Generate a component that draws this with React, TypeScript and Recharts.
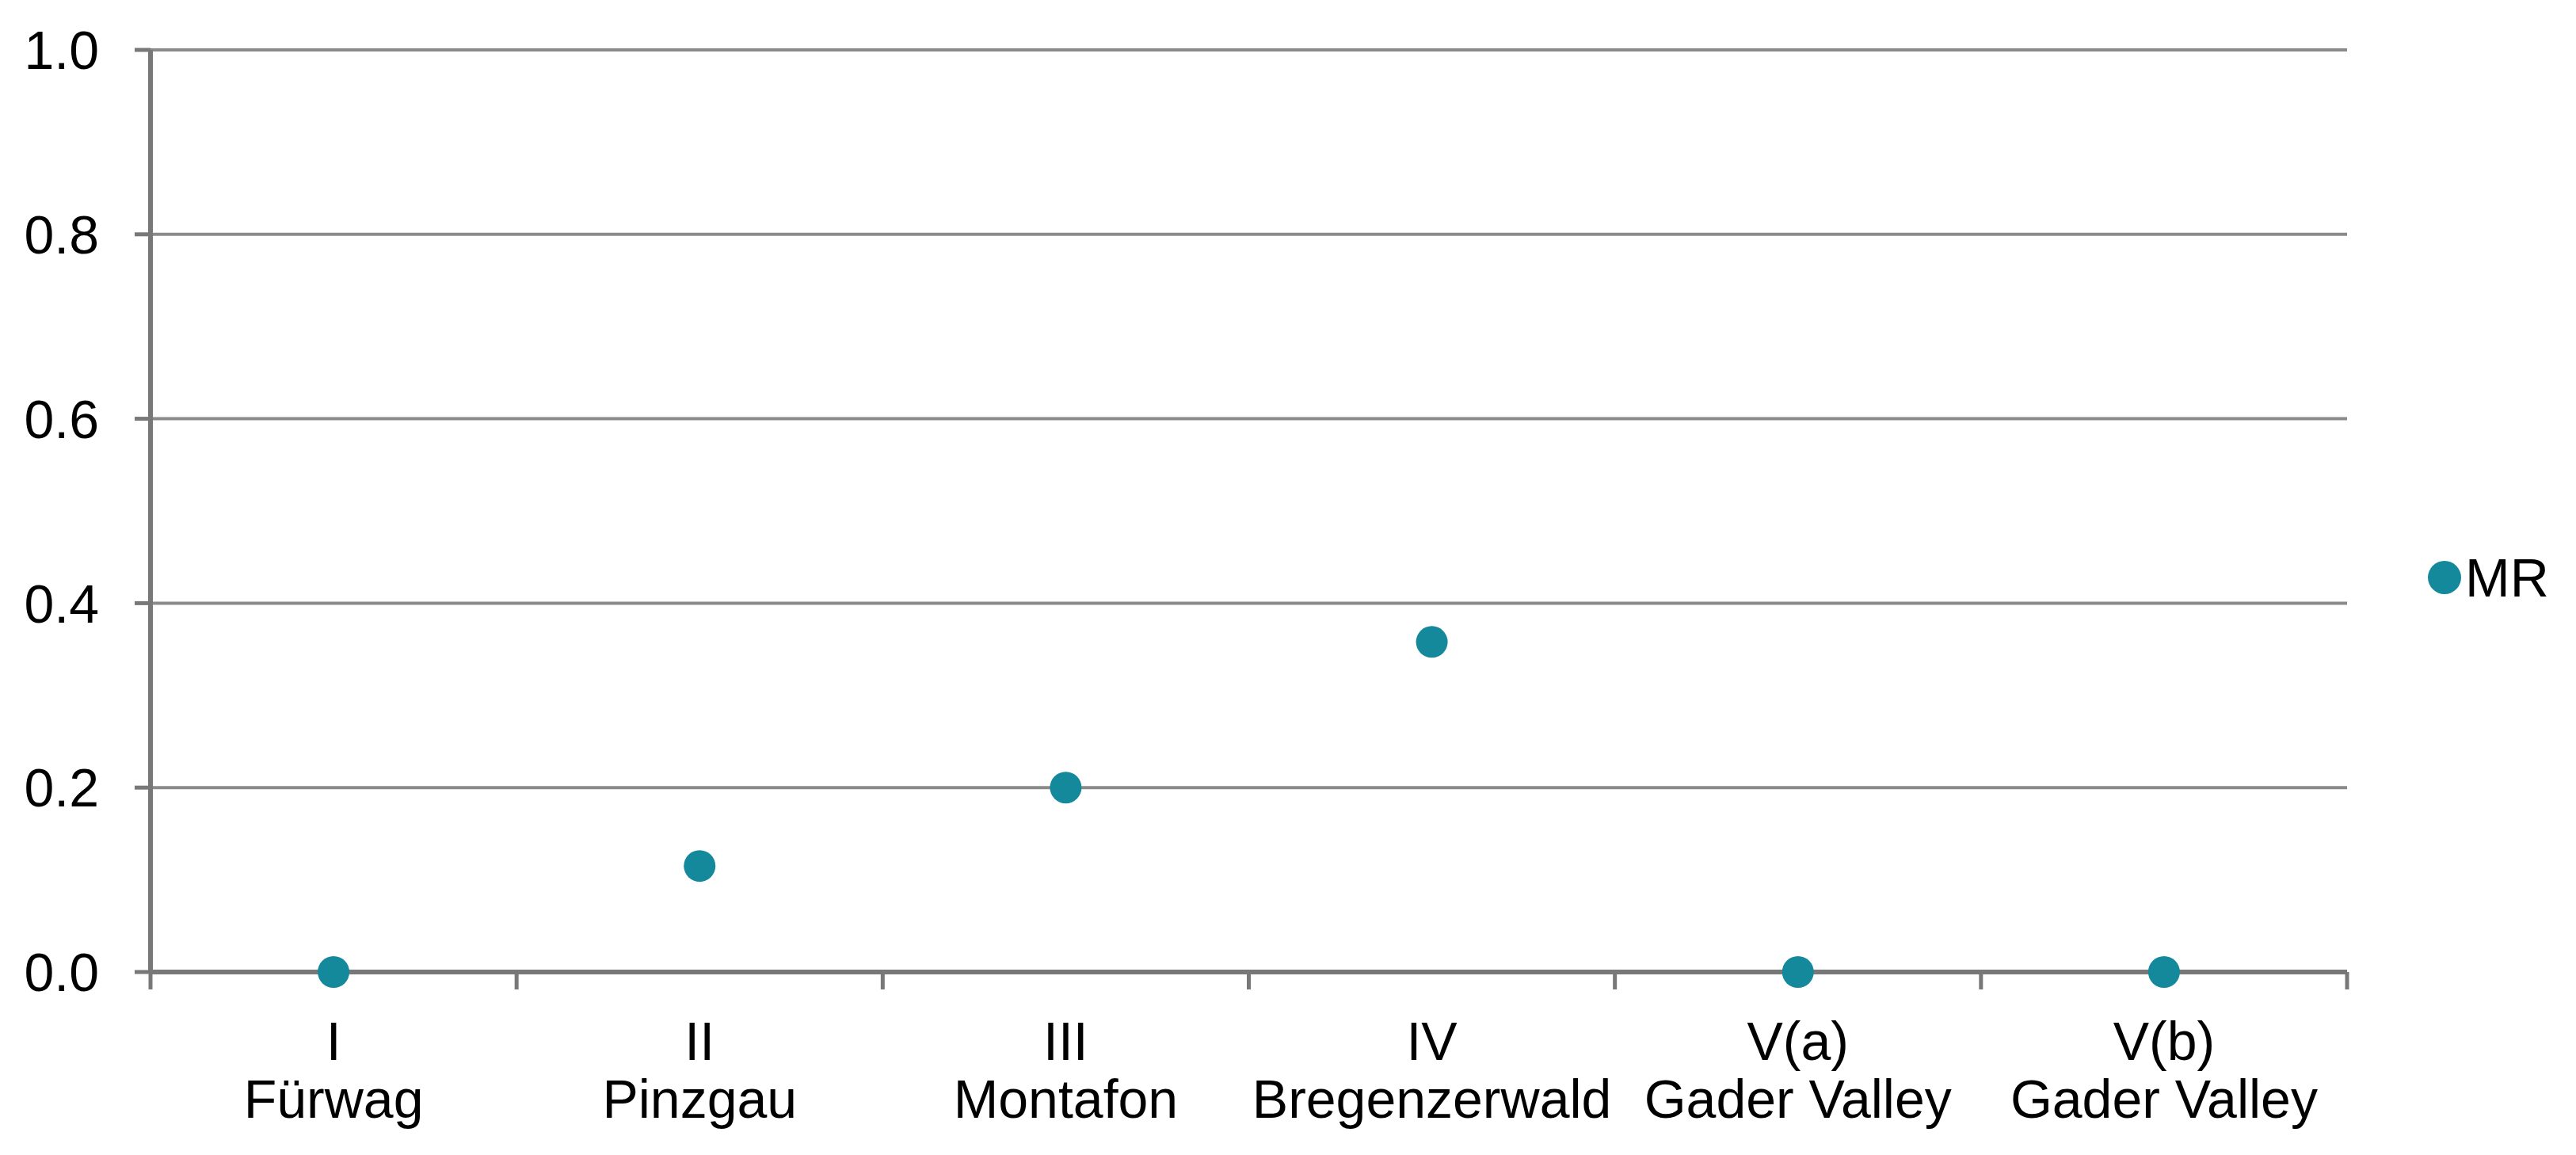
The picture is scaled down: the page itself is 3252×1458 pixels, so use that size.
import React from 'react'
import { ComposedChart, Scatter, XAxis, YAxis, CartesianGrid, Legend } from 'recharts'

const categories = ['I', 'II', 'III', 'IV', 'V(a)', 'V(b)']
const sites = ['Fürwag', 'Pinzgau', 'Montafon', 'Bregenzerwald', 'Gader Valley', 'Gader Valley']
const mrValues = [0, 0.115, 0.2, 0.358, 0, 0]
const yTicks = [0, 0.2, 0.4, 0.6, 0.8, 1.0]

const data = categories.map((c, i) => ({ code: c, site: sites[i], mr: mrValues[i] }))

const W = 3252
const H = 1458
const PLOT_LEFT = 190
const PLOT_RIGHT = 2963
const PLOT_TOP = 63
const PLOT_BOTTOM = 1227
const BAND = (PLOT_RIGHT - PLOT_LEFT) / categories.length
const LEGEND_W = 160

const FONT = '"Liberation Sans", Arial, sans-serif'
const AXIS = '#787878'
const GRID = '#8a8a8a'
const TEAL = '#13899b'

function CategoryTick(props: any) {
  const { x, y, payload, index } = props
  const i = index ?? categories.indexOf(payload.value)
  const left = x - BAND / 2
  const right = x + BAND / 2
  return (
    <g>
      <line x1={left} y1={y} x2={left} y2={y + 22} stroke={AXIS} strokeWidth={5} />
      {i === categories.length - 1 && (
        <line x1={right} y1={y} x2={right} y2={y + 22} stroke={AXIS} strokeWidth={5} />
      )}
      <text x={x} y={y} textAnchor="middle" fontFamily={FONT} fontSize={68} fill="#000">
        <tspan x={x} dy={111}>{payload.value}</tspan>
        <tspan x={x} dy={73}>{sites[i]}</tspan>
      </text>
    </g>
  )
}

function Dot(props: any) {
  return <circle cx={props.cx} cy={props.cy} r={20} fill={TEAL} />
}

function LegendBox() {
  return (
    <div style={{ display: 'flex', alignItems: 'center', fontFamily: FONT, fontSize: 68, color: '#000' }}>
      <svg width={44} height={44} style={{ marginRight: 4 }}>
        <circle cx={22} cy={22} r={21} fill={TEAL} />
      </svg>
      <span>MR</span>
    </div>
  )
}

export default function App() {
  return (
    <div style={{ position: 'absolute', left: 0, top: 0, width: W, height: H, background: '#fff' }}>
      <ComposedChart
        width={W}
        height={H}
        data={data}
        margin={{ top: PLOT_TOP, right: W - PLOT_RIGHT - LEGEND_W, bottom: 0, left: 0 }}
      >
        <CartesianGrid vertical={false} stroke={GRID} strokeWidth={4} />
        <XAxis
          dataKey="code"
          type="category"
          scale="band"
          interval={0}
          height={H - PLOT_BOTTOM}
          tickLine={false}
          tickSize={0}
          tickMargin={0}
          axisLine={{ stroke: AXIS, strokeWidth: 6 }}
          tick={<CategoryTick />}
        />
        <YAxis
          type="number"
          domain={[0, 1]}
          ticks={yTicks}
          width={PLOT_LEFT}
          tickSize={20}
          tickMargin={45}
          tickFormatter={(v: number) => v.toFixed(1)}
          axisLine={{ stroke: AXIS, strokeWidth: 6 }}
          tickLine={{ stroke: AXIS, strokeWidth: 5 }}
          tick={{ fontFamily: FONT, fontSize: 68, fill: '#000' }}
        />
        <Legend
          layout="horizontal"
          verticalAlign="middle"
          align="right"
          content={<LegendBox />}
          wrapperStyle={{ left: 3064, top: 690, right: 'auto', width: LEGEND_W }}
        />
        <Scatter name="MR" dataKey="mr" fill={TEAL} shape={<Dot />} isAnimationActive={false} />
      </ComposedChart>
    </div>
  )
}
